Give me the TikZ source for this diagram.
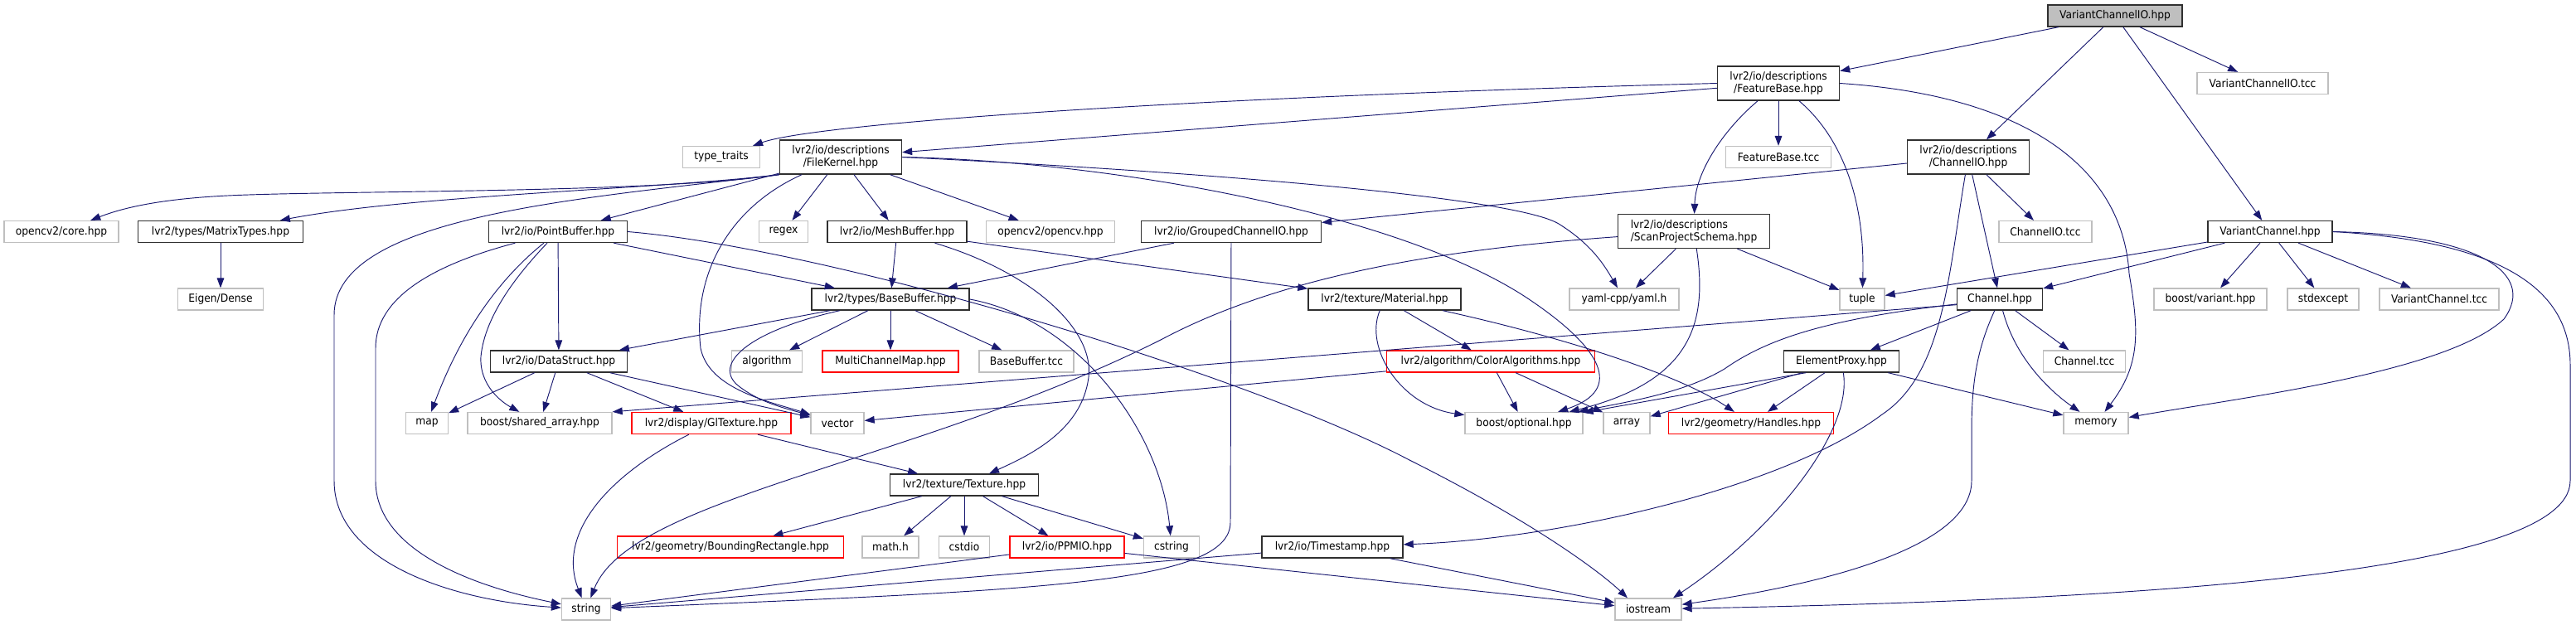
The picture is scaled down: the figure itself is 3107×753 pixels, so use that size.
\documentclass[tikz,border=0pt]{standalone}
\usepackage{fontspec}
\setmainfont[FakeStretch=0.92]{DejaVu Sans}
\usetikzlibrary{arrows.meta}
\definecolor{edgecol}{HTML}{191970}
\definecolor{gborder}{HTML}{BFBFBF}
\definecolor{bborder}{HTML}{303030}
\definecolor{rootfill}{HTML}{BFBFBF}
\definecolor{rborder}{HTML}{FF0000}
\begin{document}
\begin{tikzpicture}[x=0.75pt, y=-0.75pt,
  box/.style={draw, rectangle, fill=white, inner xsep=0pt, inner ysep=0pt, minimum height=19.5pt, font=\fontsize{10}{11.25}\selectfont, line width=1pt, align=center},
  gnode/.style={box, draw=gborder},
  bnode/.style={box, draw=bborder},
  rnode/.style={box, draw=rborder},
  rootnode/.style={box, draw=bborder, fill=rootfill},
  two/.style={minimum height=30.75pt},
  bw/.style={minimum width=#1*0.75pt},
  dep/.style={draw=edgecol, line width=0.7pt, -{Triangle[length=9pt,width=6.5pt]}}]
\useasboundingbox (0,0) rectangle (3107,753);
\fill[white] (0,0) rectangle (3107,753);

% nodes
\node[rootnode, bw=162] (root) at (2551,19) {VariantChannelIO.hpp};
\node[bnode, two, bw=147] (fb) at (2145,100.5) {lvr2/io/descriptions\\/FeatureBase.hpp};
\node[gnode, bw=158] (vciotcc) at (2729,100.5) {VariantChannelIO.tcc};
\node[gnode, bw=93] (tt) at (870,189.5) {type\_traits};
\node[bnode, two, bw=147] (fk) at (1014,189.5) {lvr2/io/descriptions\\/FileKernel.hpp};
\node[gnode, bw=127] (fbtcc) at (2145,189.5) {FeatureBase.tcc};
\node[bnode, two, bw=147] (cio) at (2374,189.5) {lvr2/io/descriptions\\/ChannelIO.hpp};
\node[gnode, bw=138] (core) at (74,279.5) {opencv2/core.hpp};
\node[bnode, bw=199] (mt) at (266,279.5) {lvr2/types/MatrixTypes.hpp};
\node[bnode, bw=167] (pb) at (673,279.5) {lvr2/io/PointBuffer.hpp};
\node[gnode, bw=59] (regex) at (945,279.5) {regex};
\node[bnode, bw=168] (mb) at (1082,279.5) {lvr2/io/MeshBuffer.hpp};
\node[gnode, bw=155] (ocv) at (1267,279.5) {opencv2/opencv.hpp};
\node[bnode, bw=217] (gcio) at (1485,279.5) {lvr2/io/GroupedChannelIO.hpp};
\node[bnode, two, bw=183, align=left] (sps) at (2043,279) {lvr2/io/descriptions\\/ScanProjectSchema.hpp};
\node[gnode, bw=112] (ciotcc) at (2467,279.5) {ChannelIO.tcc};
\node[bnode, bw=150] (vc) at (2738,279.5) {VariantChannel.hpp};
\node[gnode, bw=103] (eigen) at (266,361) {Eigen/Dense};
\node[bnode, bw=190] (bb) at (1074,361) {lvr2/types/BaseBuffer.hpp};
\node[bnode, bw=184] (mat) at (1670,361) {lvr2/texture/Material.hpp};
\node[gnode, bw=132] (yaml) at (1959,361) {yaml-cpp/yaml.h};
\node[gnode, bw=54] (tuple) at (2246,361) {tuple};
\node[bnode, bw=103] (ch) at (2412,361) {Channel.hpp};
\node[gnode, bw=136] (bv) at (2666,361) {boost/variant.hpp};
\node[gnode, bw=86] (stdexcept) at (2802,361) {stdexcept};
\node[gnode, bw=144] (vctcc) at (2942,361) {VariantChannel.tcc};
\node[bnode, bw=165] (ds) at (674,436) {lvr2/io/DataStruct.hpp};
\node[gnode, bw=85] (algo) at (925,436) {algorithm};
\node[rnode, bw=164] (mcm) at (1074,436) {MultiChannelMap.hpp};
\node[gnode, bw=114] (bbtcc) at (1238,436) {BaseBuffer.tcc};
\node[rnode, bw=251] (ca) at (1798,436) {lvr2/algorithm/ColorAlgorithms.hpp};
\node[bnode, bw=139] (ep) at (2221,436) {ElementProxy.hpp};
\node[gnode, bw=99] (chtcc) at (2514,436) {Channel.tcc};
\node[gnode, bw=51] (map) at (515,510.5) {map};
\node[gnode, bw=174] (bsa) at (651,510.5) {boost/shared\_array.hpp};
\node[rnode, bw=192] (glt) at (858,510.5) {lvr2/display/GlTexture.hpp};
\node[gnode, bw=64] (vector) at (1010,510.5) {vector};
\node[gnode, bw=142] (bo) at (1838,510.5) {boost/optional.hpp};
\node[gnode, bw=56] (array) at (1962,510.5) {array};
\node[rnode, bw=199] (hd) at (2112,510.5) {lvr2/geometry/Handles.hpp};
\node[gnode, bw=78] (mem) at (2528,510.5) {memory};
\node[bnode, bw=179] (tex) at (1163,585) {lvr2/texture/Texture.hpp};
\node[rnode, bw=273] (br) at (881,660) {lvr2/geometry/BoundingRectangle.hpp};
\node[gnode, bw=68] (math) at (1074,660) {math.h};
\node[gnode, bw=61] (cstdio) at (1163,660) {cstdio};
\node[rnode, bw=138] (ppm) at (1287,660) {lvr2/io/PPMIO.hpp};
\node[gnode, bw=67] (cstring) at (1413,660) {cstring};
\node[bnode, bw=170] (ts) at (1607,660) {lvr2/io/Timestamp.hpp};
\node[gnode, bw=59] (string) at (707,735) {string};
\node[gnode, bw=80] (ios) at (1988,735) {iostream};

% edges: VariantChannelIO.hpp
\draw[dep] (root) -- (fb);
\draw[dep] (root) -- (cio);
\draw[dep] (root) -- (vc);
\draw[dep] (root) -- (vciotcc);
% FeatureBase
\draw[dep] (fb) -- (fk);
\draw[dep] (fb.west) .. controls (1400,118) and (980,150) .. (tt);
\draw[dep] (fb) -- (fbtcc);
\draw[dep] (fb) .. controls (2075,160) and (2045,210) .. (sps);
\draw[dep] (fb) .. controls (2215,160) and (2250,230) .. (tuple);
\draw[dep] (fb.east) .. controls (2440,115) and (2560,200) .. (2568,330) .. controls (2580,400) and (2582,440) .. (mem);
% ChannelIO
\draw[dep] (cio) -- (ciotcc);
\draw[dep] (cio) -- (ch);
\draw[dep] (cio) -- (gcio);
\draw[dep] (cio) .. controls (2350,330) and (2345,450) .. (2270,500) .. controls (2150,590) and (1880,650) .. (ts);
% VariantChannel
\draw[dep] (vc) -- (tuple);
\draw[dep] (vc) -- (ch);
\draw[dep] (vc) -- (bv);
\draw[dep] (vc) -- (stdexcept);
\draw[dep] (vc) -- (vctcc);
\draw[dep] (vc.east) .. controls (2990,283) and (3060,330) .. (3020,385) .. controls (2950,450) and (2700,480) .. (mem);
\draw[dep] (vc.east) .. controls (3000,290) and (3100,340) .. (3100,440) -- (3100,580) .. controls (3100,700) and (2500,725) .. (ios);
% Channel
\draw[dep] (ch) -- (chtcc);
\draw[dep] (ch) .. controls (2430,430) and (2470,470) .. (mem);
\draw[dep] (ch) .. controls (2385,420) and (2378,460) .. (2378,520) -- (2378,580) .. controls (2378,660) and (2200,705) .. (ios);
\draw[dep] (ch) -- (ep);
\draw[dep] (ch) .. controls (2200,385) and (2130,410) .. (2080,445) .. controls (2030,475) and (1960,485) .. (bo);
\draw[dep] ([yshift=-5pt]ch.west) -- (bsa.north east);
% ElementProxy
\draw[dep] ([xshift=-32pt]ep.south) -- (bo);
\draw[dep] (ep) -- (array);
\draw[dep] (ep) -- (hd);
\draw[dep] (ep) .. controls (2235,520) and (2140,640) .. ([xshift=22.5pt]ios.north);
\draw[dep] (ep) -- (mem);
% FileKernel
\draw[dep] (fk.south west) .. controls (800,232) and (450,230) .. (300,235) .. controls (200,238) and (150,250) .. (core);
\draw[dep] (fk.south west) .. controls (800,228) and (500,235) .. (mt);
\draw[dep] (fk) -- (pb);
\draw[dep] (fk.south west) .. controls (700,240) and (403,260) .. (403,380) -- (403,580) .. controls (403,680) and (550,725) .. (string);
\draw[dep] (fk) -- (regex);
\draw[dep] (fk) -- (mb);
\draw[dep] (fk) -- (ocv);
\draw[dep] (fk) .. controls (880,250) and (835,330) .. (845,420) .. controls (855,470) and (930,485) .. (vector);
\draw[dep] (fk.east) .. controls (1500,210) and (1830,240) .. (1880,270) .. controls (1920,295) and (1935,320) .. (yaml);
\draw[dep] (fk.east) .. controls (1350,195) and (1700,260) .. (1850,365) .. controls (1930,420) and (1960,470) .. (bo);
% PointBuffer
\draw[dep] (pb) .. controls (520,320) and (453,360) .. (453,420) -- (453,580) .. controls (453,660) and (560,705) .. (string);
\draw[dep] (pb) .. controls (610,330) and (560,390) .. (map);
\draw[dep] (pb) .. controls (625,330) and (585,380) .. (580,430) .. controls (578,465) and (605,485) .. (bsa);
\draw[dep] (pb) -- (ds);
\draw[dep] (pb) -- (bb);
\draw[dep] (pb.east) .. controls (1000,300) and (1500,450) .. (1700,555) .. controls (1850,630) and (1930,690) .. ([xshift=-18.75pt]ios.north);
% DataStruct
\draw[dep] (ds) -- (map);
\draw[dep] (ds) -- (bsa);
\draw[dep] (ds) -- (glt);
\draw[dep] (ds) -- (vector);
% MatrixTypes
\draw[dep] (mt) -- (eigen);
% MeshBuffer
\draw[dep] (mb) -- (bb);
\draw[dep] (mb) -- (mat);
\draw[dep] (mb) .. controls (1250,330) and (1320,400) .. (1313,455) .. controls (1305,520) and (1240,550) .. (tex);
% GroupedChannelIO
\draw[dep] (gcio) -- (bb);
\draw[dep] (gcio) -- (1484,630) .. controls (1484,705) and (1250,712) .. (string);
% BaseBuffer
\draw[dep] (bb) -- (ds);
\draw[dep] (bb) -- (algo);
\draw[dep] (bb) -- (mcm);
\draw[dep] (bb) -- (bbtcc);
\draw[dep] (bb) .. controls (900,400) and (860,440) .. (890,465) .. controls (915,485) and (945,492) .. (vector);
\draw[dep] (bb.east) .. controls (1300,385) and (1400,520) .. (cstring);
% ScanProjectSchema
\draw[dep] (sps) .. controls (1750,300) and (1550,330) .. (1400,410) .. controls (1100,560) and (760,600) .. (string);
\draw[dep] (sps) -- (yaml);
\draw[dep] (sps) -- (tuple);
\draw[dep] (sps) .. controls (2060,390) and (2040,460) .. (bo);
% Material
\draw[dep] (mat) .. controls (1645,420) and (1690,490) .. (bo);
\draw[dep] (mat) -- (ca);
\draw[dep] ([xshift=52.5pt]mat.south) .. controls (1900,410) and (2030,455) .. (hd);
% ColorAlgorithms
\draw[dep] (ca) -- (vector);
\draw[dep] (ca) -- (bo);
\draw[dep] (ca) -- (array);
% GlTexture
\draw[dep] (glt) -- (tex);
\draw[dep] (glt) .. controls (740,570) and (670,640) .. (string);
% Texture
\draw[dep] (tex) -- (br);
\draw[dep] (tex) -- (math);
\draw[dep] (tex) -- (cstdio);
\draw[dep] (tex) -- (ppm);
\draw[dep] (tex) -- (cstring);
% PPMIO, Timestamp
\draw[dep] (ppm) -- (string);
\draw[dep] (ppm) -- (ios);
\draw[dep] (ts) -- (string);
\draw[dep] (ts) -- (ios);
\end{tikzpicture}
\end{document}
